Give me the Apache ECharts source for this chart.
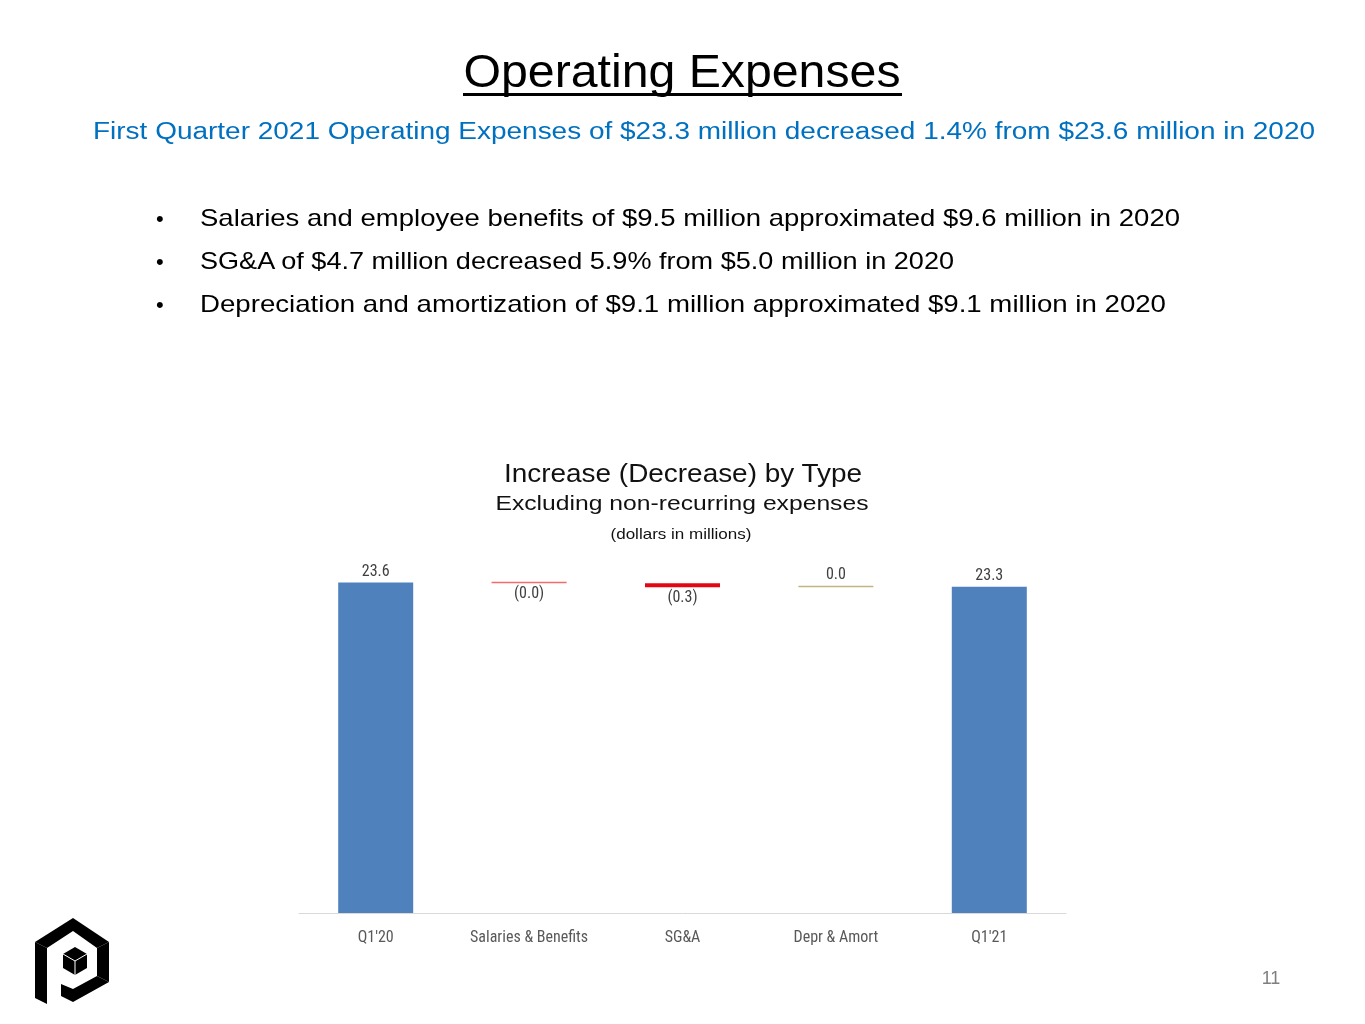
<!DOCTYPE html>
<html>
<head>
<meta charset="utf-8">
<script src="https://cdn.jsdelivr.net/npm/echarts@6/dist/echarts.min.js"></script>
<style>
    html, body { margin: 0; padding: 0; background: #fff; }
    #page { position: relative; width: 1365px; height: 1024px; overflow: hidden; }
    #chart { position: absolute; left: 0; top: 0; width: 1365px; height: 1024px; }
    #deco { position: absolute; left: 0; top: 0; width: 1365px; height: 1024px; pointer-events: none; }
    #deco text { font-family: "Liberation Sans", Arial, sans-serif; }
</style>
</head>
<body>
<div id="page">
    <div id="chart"></div>
    <svg id="deco" width="1365" height="1024" viewBox="0 0 1365 1024">
        <!-- slide header -->
        <text x="682" y="87" font-size="46" fill="#000" text-anchor="middle" textLength="437" lengthAdjust="spacingAndGlyphs">Operating Expenses</text>
        <rect x="463" y="93" width="439" height="3" fill="#000"/>
        <text x="93" y="139" font-size="23" fill="#0070c0" textLength="1222" lengthAdjust="spacingAndGlyphs">First Quarter 2021 Operating Expenses of $23.3 million decreased 1.4% from $23.6 million in 2020</text>

        <!-- bullets -->
        <text x="156" y="226" font-size="22" fill="#000">•</text>
        <text x="200" y="226" font-size="24" fill="#000" textLength="980" lengthAdjust="spacingAndGlyphs">Salaries and employee benefits of $9.5 million approximated $9.6 million in 2020</text>
        <text x="156" y="269" font-size="22" fill="#000">•</text>
        <text x="200" y="269" font-size="24" fill="#000" textLength="754" lengthAdjust="spacingAndGlyphs">SG&amp;A of $4.7 million decreased 5.9% from $5.0 million in 2020</text>
        <text x="156" y="312" font-size="22" fill="#000">•</text>
        <text x="200" y="312" font-size="24" fill="#000" textLength="966" lengthAdjust="spacingAndGlyphs">Depreciation and amortization of $9.1 million approximated $9.1 million in 2020</text>

        <!-- chart titles -->
        <text x="683" y="482" font-size="25" fill="#111" text-anchor="middle" textLength="358" lengthAdjust="spacingAndGlyphs">Increase (Decrease) by Type</text>
        <text x="682" y="510" font-size="21" fill="#111" text-anchor="middle" textLength="373" lengthAdjust="spacingAndGlyphs">Excluding non-recurring expenses</text>
        <text x="681" y="539" font-size="15" fill="#111" text-anchor="middle" textLength="141" lengthAdjust="spacingAndGlyphs">(dollars in millions)</text>

        <!-- page number -->
        <text x="1271" y="984" font-size="18" fill="#7f7f7f" text-anchor="middle">11</text>

        <!-- logo -->
        <g transform="translate(20,900)" fill="#000">
            <polygon points="15,42 53,18 53,31 27,48"/>
            <polygon points="53,18 89,42 77,48 53,31"/>
            <polygon points="15,42 27,48 27,104 15,98"/>
            <polygon points="77,48 89,42 89,82 77,76"/>
            <polygon points="89,82 53,102 41,96 41,84 53,89 77,76"/>
            <polygon points="55,47 67,54 67,68 55,75 43,68 43,54"/>
            <polyline points="43,54 55,61 67,54" fill="none" stroke="#fff" stroke-width="1"/>
            <line x1="55" y1="61" x2="55" y2="75" stroke="#fff" stroke-width="1"/>
        </g>
    </svg>
</div>

<script>
    // waterfall data (dollars in millions)
    var categories = ["Q1'20", 'Salaries & Benefits', 'SG&A', 'Depr & Amort', "Q1'21"];
    var totals = [23.6, null, null, null, 23.3];
    var changes = [null, -0.04, -0.3, 0.01, null];
    var changeColors = [null, '#f26b6b', '#e30613', '#c4b483', null];

    // invisible base + visible step, running total from the changes
    var baseData = [], totalData = [], stepData = [];
    var running = 0;
    for (var i = 0; i < categories.length; i++) {
        if (totals[i] !== null) {
            running = totals[i];
            baseData.push(0);
            totalData.push(totals[i]);
            stepData.push('-');
        } else {
            var c = changes[i];
            var next = running + c;
            baseData.push(Math.min(running, next));
            totalData.push('-');
            stepData.push({
                value: Math.abs(c),
                itemStyle: { color: changeColors[i] },
                label: {
                    position: c < 0 ? 'bottom' : 'top',
                    formatter: c < 0 ? '(' + Math.abs(c).toFixed(1) + ')' : c.toFixed(1)
                }
            });
            running = next;
        }
    }

    var labelFont = "'Liberation Sans Narrow', 'Roboto Condensed', Roboto, sans-serif";

    var chart = echarts.init(document.getElementById('chart'));
    var option = {
        animation: false,
        grid: { left: 299, right: 299, top: 563, bottom: 111 },
        xAxis: {
            type: 'category',
            data: categories,
            axisLine: { lineStyle: { color: '#d9d9d9', width: 1 } },
            axisTick: { show: false },
            axisLabel: { interval: 0, color: '#595959', fontSize: 16, fontFamily: labelFont, margin: 17 }
        },
        yAxis: {
            type: 'value',
            min: 0,
            max: 25,
            show: false,
            splitLine: { show: false }
        },
        series: [
            {
                name: 'base',
                type: 'bar',
                stack: 'wf',
                barWidth: 75,
                itemStyle: { color: 'transparent' },
                data: baseData,
                silent: true
            },
            {
                name: 'total',
                type: 'bar',
                stack: 'wf',
                barWidth: 75,
                itemStyle: { color: '#4f81bd' },
                label: {
                    show: true,
                    position: 'top',
                    distance: 3,
                    color: '#404040',
                    fontSize: 16,
                    fontFamily: labelFont,
                    formatter: function (p) { return p.value.toFixed(1); }
                },
                data: totalData
            },
            {
                name: 'change',
                type: 'bar',
                stack: 'wf',
                barWidth: 75,
                barMinHeight: 1.5,
                label: {
                    show: true,
                    distance: 3,
                    color: '#404040',
                    fontSize: 16,
                    fontFamily: labelFont
                },
                data: stepData
            }
        ]
    };
    chart.setOption(option, true);
</script>
</body>
</html>
